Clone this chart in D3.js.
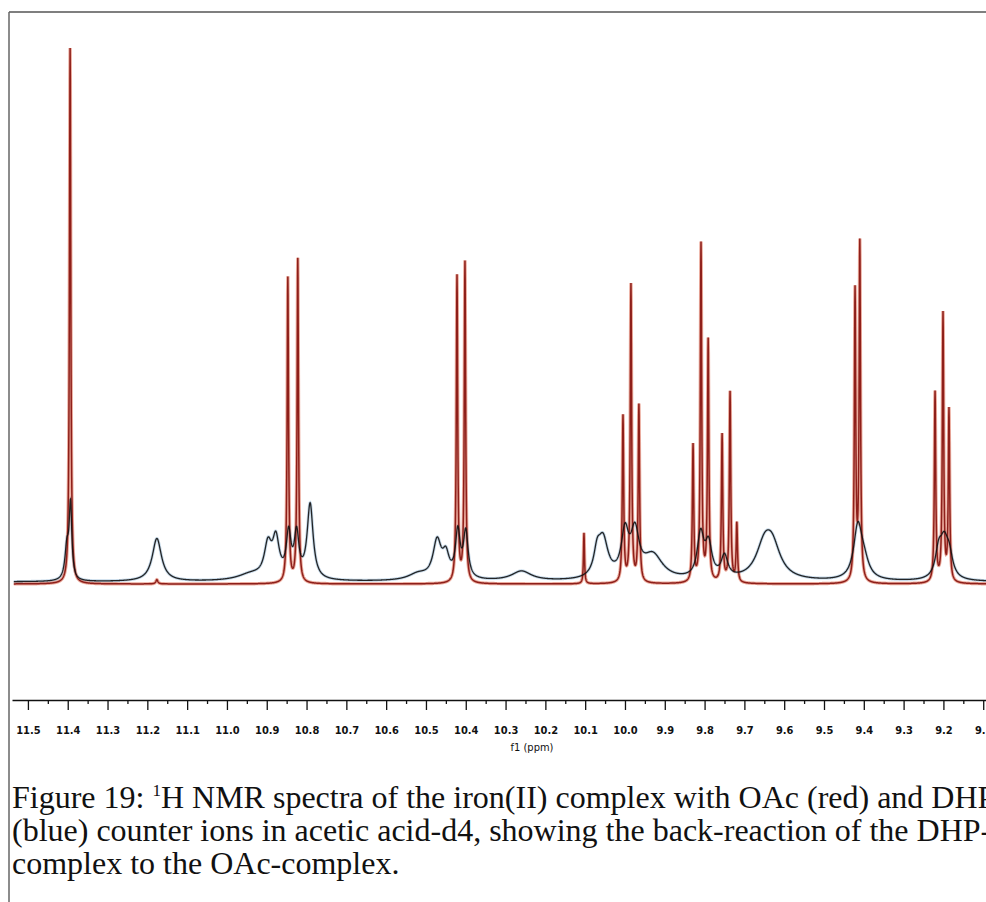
<!DOCTYPE html>
<html>
<head>
<meta charset="utf-8">
<script src="https://cdn.jsdelivr.net/npm/d3@7"></script>
<style>
  body { margin: 0; background: #fff; overflow: hidden; }
</style>
</head>
<body>
<script>

// OAc complex (red trace): sharp lines, ppm / height / line width (ppm)
var redShift  = [11.394, 11.176, 10.847, 10.822, 10.422, 10.402, 10.103,
                 10.005, 9.985, 9.965, 9.829, 9.809, 9.791, 9.756, 9.736, 9.719,
                 9.422, 9.410, 9.221, 9.201, 9.186];
var redHeight = [100, 0.8, 57, 60.5, 57.2, 59.8, 9.5,
                 31, 55.5, 33, 25.5, 63, 45, 27.5, 35.5, 11,
                 54, 63, 35.5, 50, 32];
var redWidth  = [0.004, 0.006, 0.004, 0.004, 0.004, 0.004, 0.003,
                 0.004, 0.004, 0.004, 0.004, 0.004, 0.004, 0.004, 0.004, 0.004,
                 0.004, 0.004, 0.004, 0.004, 0.004];

// DHP complex (blue trace): broad lines
var blueShift  = [11.402, 11.393, 11.176, 10.94, 10.897, 10.877, 10.845, 10.825, 10.791,
                  10.52, 10.472, 10.450, 10.420, 10.400, 10.26,
                  10.07, 10.055, 10.000, 9.975, 9.93,
                  9.81, 9.79, 9.75, 9.65, 9.63,
                  9.415, 9.400, 9.212, 9.198, 9.185];
var blueHeight = [6, 13.5, 8, 1.2, 6, 7, 8, 8, 14,
                  1.2, 7, 4, 8.5, 8.5, 1.8,
                  4, 7, 8, 8, 4.5,
                  8, 6, 4, 5.5, 5.5,
                  9.5, 3, 4.5, 6.5, 3.5];
var blueWidth  = [0.012, 0.008, 0.028, 0.08, 0.022, 0.02, 0.014, 0.014, 0.018,
                  0.06, 0.025, 0.02, 0.014, 0.014, 0.06,
                  0.02, 0.03, 0.022, 0.025, 0.06,
                  0.02, 0.02, 0.02, 0.05, 0.05,
                  0.025, 0.03, 0.02, 0.025, 0.02];
var blueBase = 0.4;

var majorTicks = [11.5, 11.4, 11.3, 11.2, 11.1, 11.0, 10.9, 10.8, 10.7, 10.6, 10.5, 10.4,
                  10.3, 10.2, 10.1, 10.0, 9.9, 9.8, 9.7, 9.6, 9.5, 9.4, 9.3, 9.2, 9.1];
var axisTitle = "f1 (ppm)";

var captionLines = [
  ["Figure 19: ", "1", "H NMR spectra of the iron(II) complex with OAc (red) and DHP"],
  ["(blue) counter ions in acetic acid-d4, showing the back-reaction of the DHP-"],
  ["complex to the OAc-complex."]
];

var W = 986, H = 902;

var svg = d3.select("body").append("svg")
  .attr("width", W)
  .attr("height", H);

// frame
svg.append("line").attr("x1", 9).attr("x2", W).attr("y1", 12).attr("y2", 12)
  .attr("stroke", "#555").attr("stroke-width", 1.5);
svg.append("line").attr("x1", 9).attr("x2", 9).attr("y1", 12).attr("y2", H)
  .attr("stroke", "#666").attr("stroke-width", 1.5);

var x = d3.scaleLinear().domain([11.54, 9.093]).range([12, 986]);
var y = d3.scaleLinear().domain([0, 100]).range([584, 48]);

// sum of lorentzian lines from the peak lists
function spectrum(shift, height, width, base) {
  var grid = d3.range(9.09, 11.536, 0.0005).concat(shift).sort(d3.ascending);
  return grid.map(function(p) {
    var s = base;
    for (var i = 0; i < shift.length; i++) {
      var d = (p - shift[i]) / (width[i] / 2);
      s += height[i] / (1 + d * d);
    }
    return [p, s];
  });
}

var line = d3.line()
  .x(function(d) { return x(d[0]); })
  .y(function(d) { return y(d[1]); });

var red = spectrum(redShift, redHeight, redWidth, 0);
var blue = spectrum(blueShift, blueHeight, blueWidth, blueBase);

svg.append("path").datum(blue).attr("d", line)
  .attr("fill", "none").attr("stroke", "#7fa9cc").attr("stroke-width", 3).attr("opacity", 0.45);
svg.append("path").datum(red).attr("d", line)
  .attr("fill", "none").attr("stroke", "#d8583c").attr("stroke-width", 3.4).attr("opacity", 0.5);
svg.append("path").datum(red).attr("d", line)
  .attr("fill", "none").attr("stroke", "#8e1f1a").attr("stroke-width", 1.5);
svg.append("path").datum(blue).attr("d", line)
  .attr("fill", "none").attr("stroke", "#111").attr("stroke-width", 1.3).attr("opacity", 0.9);

// axis
var allTicks = d3.range(0, 49).map(function(i) { return +(9.1 + i * 0.05).toFixed(2); });

var axis = d3.axisBottom(x)
  .tickValues(allTicks)
  .tickSize(10)
  .tickSizeOuter(0)
  .tickFormat(function(d) {
    return majorTicks.indexOf(d) >= 0 ? d3.format(".1f")(d) : "";
  });

var gx = svg.append("g")
  .attr("transform", "translate(0,700)")
  .call(axis);

gx.select(".domain").attr("stroke", "#111").attr("stroke-width", 1.6);
gx.selectAll(".tick line")
  .attr("stroke", "#111")
  .attr("stroke-width", 1.3)
  .attr("y2", function(d) { return majorTicks.indexOf(d) >= 0 ? 10 : 4; });
gx.selectAll(".tick text")
  .attr("y", 26)
  .attr("fill", "#111")
  .style("font-family", "'DejaVu Sans Condensed', 'DejaVu Sans', sans-serif")
  .style("font-weight", "bold")
  .style("font-size", "11px");

svg.append("text")
  .attr("x", 532)
  .attr("y", 751)
  .attr("text-anchor", "middle")
  .attr("fill", "#111")
  .style("font-family", "'DejaVu Sans Condensed', 'DejaVu Sans', sans-serif")
  .style("font-size", "11px")
  .text(axisTitle);

// caption
var cap = svg.append("g")
  .style("font-family", "'Liberation Serif', 'Times New Roman', serif")
  .style("font-size", "32px")
  .attr("fill", "#111");

captionLines.forEach(function(parts, i) {
  var t = cap.append("text").attr("x", 12).attr("y", 808 + i * 33);
  if (parts.length === 1) {
    t.text(parts[0]);
  } else {
    t.append("tspan").text(parts[0]);
    t.append("tspan").attr("dy", -12).style("font-size", "17px").text(parts[1]);
    t.append("tspan").attr("dy", 12).text(parts[2]);
  }
});

</script>
</body>
</html>
